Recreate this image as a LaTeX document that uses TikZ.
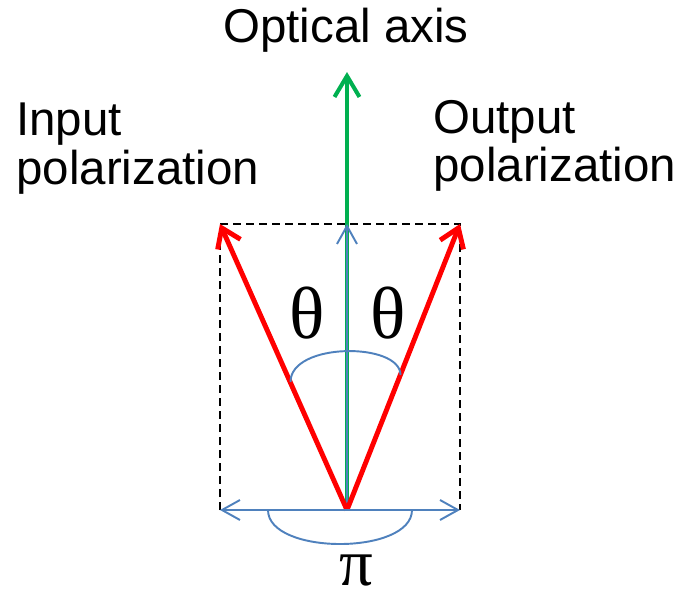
\documentclass[tikz,border=0pt]{standalone}
\usepackage{fontspec}
\setmainfont{Liberation Sans}
\newfontfamily\greekfont{Liberation Serif}
\usepackage{tikz}
\usetikzlibrary{arrows.meta}
\definecolor{polred}{HTML}{FF0000}
\definecolor{axisgreen}{HTML}{00B050}
\definecolor{angleblue}{HTML}{4F81BD}

\begin{document}
\begin{tikzpicture}[font=\fontsize{27}{27.5}\selectfont,
    polvec/.style={polred,line width=2.8pt,-{Straight Barb[length=0.36cm,width=0.5cm]}},
    thinblue/.style={angleblue,line width=1.1pt},
    bluetip/.tip={Straight Barb[length=0.36cm,width=0.4cm]},
    greek/.style={inner sep=0pt,font=\greekfont\fontsize{42}{42}\selectfont}]
    \useasboundingbox (-6.94,-1.74) rectangle (6.68,10.2);
    % corners of the box and the end points
    \coordinate (O) at (0,0);
    \coordinate (axistip) at (0,8.76);
    \coordinate (boxTL) at (-2.54,5.72);
    \coordinate (boxTR) at (2.26,5.72);
    \coordinate (boxBL) at (-2.54,0);
    \coordinate (boxBR) at (2.26,0);
    \coordinate (arcL) at (-1.13,2.56);
    \coordinate (arcR) at (1.07,2.7);
    \coordinate (piL) at (-1.58,0);
    \coordinate (piR) at (1.3,0);
    \draw[black,line width=1.6pt,dash pattern=on 0.16cm off 0.1cm] (boxBL)--(boxTL)--(boxTR)--(boxBR);
    \draw[axisgreen,line width=2.3pt,-{Straight Barb[length=0.42cm,width=0.5cm]}] (O)--(axistip);
    \draw[thinblue,-bluetip] (O)--(boxTL-|O);
    \draw[polvec] (O)--(boxTL);
    \draw[polvec] (O)--(boxTR);
    \draw[thinblue,bluetip-bluetip] (boxBL)--(boxBR);
    \draw[thinblue] (arcL) .. controls (-1.13,3.36) and (1.07,3.36) .. (arcR);
    \draw[thinblue] (piL) .. controls (-1.58,-0.907) and (1.3,-0.907) .. (piR);
    \node[anchor=base] (axislbl) at (-0.02,9.34) {Optical axis};
    \node[anchor=north west,align=left,inner sep=0pt] (inlbl) at (-6.62,8.14) {Input\\polarization};
    \node[anchor=north west,align=left,inner sep=0pt] (outlbl) at (1.72,8.2) {Output\\polarization};
    \node[greek] (thetaL) at (-0.8,3.94) {θ};
    \node[greek] (thetaR) at (0.82,3.94) {θ};
    \node[greek,font=\greekfont\fontsize{38}{38}\selectfont] (pilbl) at (0.18,-1.2) {π};
  \end{tikzpicture}
\end{document}
